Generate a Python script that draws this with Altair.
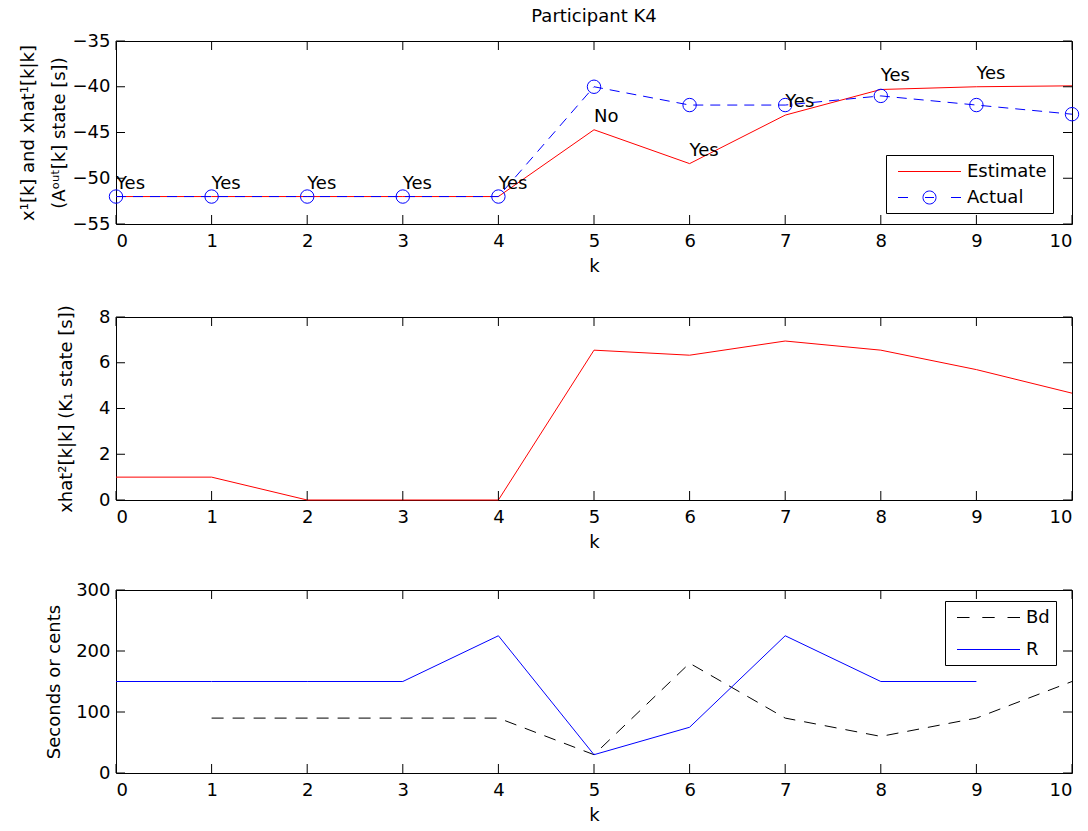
import altair as alt
import pandas as pd

# ---------------- data ----------------
k_vals = [0, 1, 2, 3, 4, 5, 6, 7, 8, 9, 10]
estimate = [-52, -52, -52, -52, -52, -44.7, -48.4, -43.1, -40.3, -40.0, -39.9]
actual = [-52, -52, -52, -52, -52, -40, -42, -42, -41, -42, -43]
answer_k = [0, 1, 2, 3, 4, 5, 6, 7, 8, 9]
answers = ["Yes", "Yes", "Yes", "Yes", "Yes", "No", "Yes", "Yes", "Yes", "Yes"]
xhat2 = [1, 1, 0, 0, 0, 6.55, 6.33, 6.95, 6.55, 5.7, 4.67]
r_k = [0, 1, 2, 3, 4, 5, 6, 7, 8, 9]
r_vals = [150, 150, 150, 150, 225, 30, 75, 225, 150, 150]
bd_k = [1, 2, 3, 4, 5, 6, 7, 8, 9, 10]
bd_vals = [90, 90, 90, 90, 30, 180, 90, 60, 90, 150]

series1 = ["Estimate", "Actual"]
series3 = ["Bd", "R"]

x_ticks = [0, 1, 2, 3, 4, 5, 6, 7, 8, 9, 10]
y1_ticks = [-55, -50, -45, -40, -35]
y2_ticks = [0, 2, 4, 6, 8]
y3_ticks = [0, 100, 200, 300]

W, H = 956, 183
TL = 9  # inner tick length
FONT = "DejaVu Sans"
FS = 18
RED, BLUE, BLACK = "#ff0000", "#0000ff", "#000000"

# legend glyphs (unit = 10 px with symbolSize 400)
SYM_SOLID = "M-3.15,0H3.15"
SYM_DASH_CIRCLE = ("M-3.15,0H-2.15M-0.65,0A0.65,0.65 0 1,1 0.65,0A0.65,0.65 0 1,1 -0.65,0"
                   "M-0.45,0H0.45M2.15,0H3.15")
SYM_DASHED = "M-3.15,0H-1.9M-0.62,0H0.62M1.9,0H3.15"

xscale = alt.Scale(domain=[0, 10], nice=False, zero=False)
y1scale = alt.Scale(domain=[-55, -35], nice=False, zero=False)
y2scale = alt.Scale(domain=[0, 8], nice=False, zero=False)
y3scale = alt.Scale(domain=[0, 300], nice=False, zero=False)

Y1_TITLE = ["x\u00b9[k] and xhat\u00b9[k|k]", "(A\u1d52\u1d58\u1d57[k] state [s])"]
Y2_TITLE = "xhat\u00b2[k|k] (K\u2081 state [s])"
Y3_TITLE = "Seconds or cents"
TPAD = {Y3_TITLE: 12, Y2_TITLE: 23}


def x_axis():
    return alt.Axis(values=x_ticks, title="k", ticks=False, domain=False, grid=False,
                    labelPadding=8, titlePadding=7, format="d")


def y_axis(vals, title):
    pad = TPAD.get(title, 4) if isinstance(title, str) else 4
    return alt.Axis(values=vals, title=title, ticks=False, domain=False, grid=False,
                    labelPadding=6, titlePadding=pad, titleLineHeight=31)


def enc_xy(chart, xfield, yfield, yscale, yvals, ytitle):
    return chart.encode(
        x=alt.X(f"{xfield}:Q", scale=xscale, axis=x_axis()),
        y=alt.Y(f"{yfield}:Q", scale=yscale, axis=y_axis(yvals, ytitle)),
    )


def tick_layers(yvals, yscale, ytitle):
    xt = pd.DataFrame({"t": x_ticks})
    yt = pd.DataFrame({"t": yvals})
    xs = alt.X("t:Q", scale=xscale, axis=x_axis())
    ys = alt.Y("t:Q", scale=yscale, axis=y_axis(yvals, ytitle))
    base_x = alt.Chart(xt).mark_rule(color="black", strokeWidth=1)
    base_y = alt.Chart(yt).mark_rule(color="black", strokeWidth=1)
    return [
        base_x.encode(x=xs, y=alt.value(H), y2=alt.value(H - TL)),
        base_x.encode(x=xs, y=alt.value(0), y2=alt.value(TL)),
        base_y.encode(y=ys, x=alt.value(0), x2=alt.value(TL)),
        base_y.encode(y=ys, x=alt.value(W), x2=alt.value(W - TL)),
    ]


def legend_layer(domain, colors, shapes, lx, ly, row_pad, yscale, yvals, ytitle):
    leg = alt.Legend(orient="none", legendX=lx, legendY=ly, title=None,
                     strokeColor="black", fillColor="white", padding=6,
                     symbolSize=400, symbolStrokeWidth=1, symbolOpacity=1,
                     symbolFillColor="transparent", symbolOffset=27,
                     labelFontSize=FS, labelFont=FONT, labelColor="black",
                     rowPadding=row_pad, labelOffset=27)
    df = pd.DataFrame({"series": domain, "k": [None] * len(domain), "v": [None] * len(domain)})
    return alt.Chart(df).mark_point(filled=False, strokeWidth=1).encode(
        x=alt.X("k:Q", scale=xscale, axis=x_axis()),
        y=alt.Y("v:Q", scale=yscale, axis=y_axis(yvals, ytitle)),
        color=alt.Color("series:N", scale=alt.Scale(domain=domain, range=colors), legend=leg),
        shape=alt.Shape("series:N", scale=alt.Scale(domain=domain, range=shapes), legend=leg),
    )


VIEW = alt.ViewBackground(stroke="black", strokeWidth=1)

# ---------------- panel 1 ----------------
est1 = enc_xy(alt.Chart(pd.DataFrame({"k": k_vals, "v": estimate})).mark_line(
    color=RED, strokeWidth=1), "k", "v", y1scale, y1_ticks, Y1_TITLE)
act1 = enc_xy(alt.Chart(pd.DataFrame({"k": k_vals, "v": actual})).mark_line(
    color=BLUE, strokeWidth=1, strokeDash=[10, 7]), "k", "v", y1scale, y1_ticks, Y1_TITLE)
pts1 = enc_xy(alt.Chart(pd.DataFrame({"k": k_vals, "v": actual})).mark_point(
    shape="circle", filled=False, size=180, color=BLUE, strokeWidth=1, opacity=1),
    "k", "v", y1scale, y1_ticks, Y1_TITLE)
txt1 = enc_xy(alt.Chart(pd.DataFrame({"k": answer_k, "v": estimate[:10], "a": answers})).mark_text(
    align="left", baseline="middle", dy=-13, fontSize=FS, font=FONT, color="black"),
    "k", "v", y1scale, y1_ticks, Y1_TITLE).encode(text="a:N")
leg1 = legend_layer(series1, [RED, BLUE], [SYM_SOLID, SYM_DASH_CIRCLE], 770, 114, 6,
                    y1scale, y1_ticks, Y1_TITLE)

p1 = alt.layer(est1, act1, pts1, txt1, leg1, *tick_layers(y1_ticks, y1scale, Y1_TITLE)).properties(
    width=W, height=H,
    title=alt.Title("Participant K4", frame="group", anchor="middle", fontSize=FS,
                    fontWeight="normal", font=FONT, offset=6, color="black"),
    view=VIEW,
)

# ---------------- panel 2 ----------------
line2 = enc_xy(alt.Chart(pd.DataFrame({"k": k_vals, "v": xhat2})).mark_line(
    color=RED, strokeWidth=1), "k", "v", y2scale, y2_ticks, Y2_TITLE)
p2 = alt.layer(line2, *tick_layers(y2_ticks, y2scale, Y2_TITLE)).properties(
    width=W, height=H, view=VIEW)

# ---------------- panel 3 ----------------
bd3 = enc_xy(alt.Chart(pd.DataFrame({"k": bd_k, "v": bd_vals})).mark_line(
    color=BLACK, strokeWidth=1, strokeDash=[12, 9]), "k", "v", y3scale, y3_ticks, Y3_TITLE)
r3 = enc_xy(alt.Chart(pd.DataFrame({"k": r_k, "v": r_vals})).mark_line(
    color=BLUE, strokeWidth=1), "k", "v", y3scale, y3_ticks, Y3_TITLE)
leg3 = legend_layer(series3, [BLACK, BLUE], [SYM_DASHED, SYM_SOLID], 829, 11, 12,
                    y3scale, y3_ticks, Y3_TITLE)
p3 = alt.layer(bd3, r3, leg3, *tick_layers(y3_ticks, y3scale, Y3_TITLE)).properties(
    width=W, height=H, view=VIEW)

chart = alt.vconcat(p1, p2, p3, spacing=28).resolve_scale(
    color="independent", shape="independent"
).properties(
    padding={"left": 18, "top": 7, "right": 5, "bottom": 0}, background="white"
).configure_view(
    stroke="black", strokeWidth=1
).configure_axis(
    labelFont=FONT, titleFont=FONT, labelFontSize=FS, titleFontSize=FS,
    titleFontWeight="normal", labelColor="black", titleColor="black",
)

chart.save("out.html", embed_options={"renderer": "svg", "actions": False})
